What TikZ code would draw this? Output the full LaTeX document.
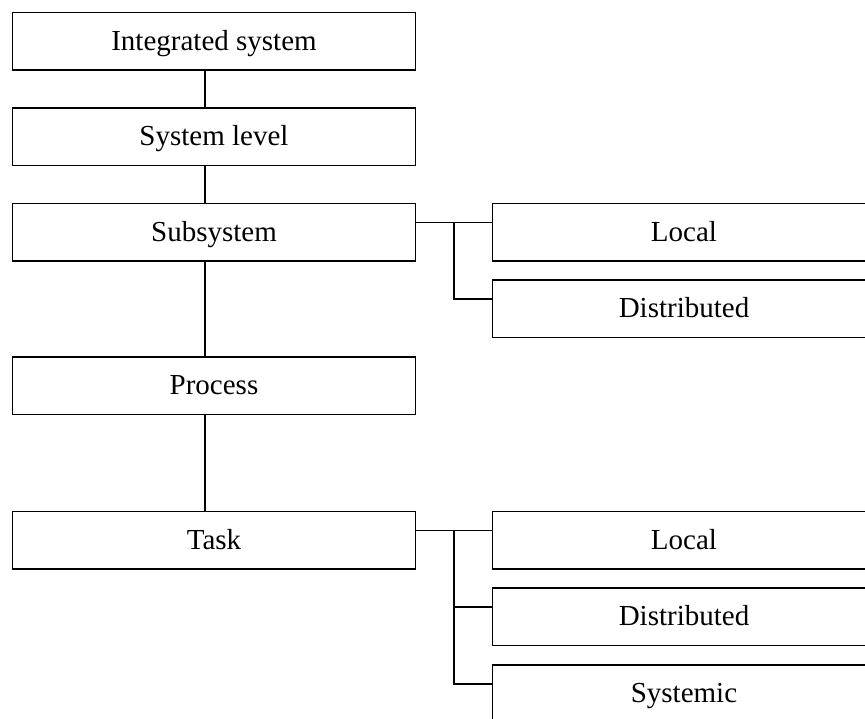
\documentclass[tikz,border=0pt]{standalone}
\usepackage{fontspec}
\setmainfont{Liberation Serif}
\usetikzlibrary{positioning}

\begin{document}
\begin{tikzpicture}[x=1pt, y=1pt, node distance=38pt, line width=1.5pt,
	box/.style={draw, minimum width=403pt, minimum height=57.5pt, inner sep=0pt, outer sep=0pt, text height=18pt, text depth=0pt, font=\fontsize{29}{34}\selectfont},
	leaf/.style={box, minimum width=383pt}]
	\useasboundingbox (0,0) rectangle (865,-718);
	\clip (0,0) rectangle (865,-718);

	% levels
	\node (integ) [box] at (214,-41) {Integrated system};
	\node (syslev) [box, below=of integ] {System level};
	\node (subsys) [box, below=of syslev] {Subsystem};
	\node (proc) [box, below=96pt of subsys] {Process};
	\node (task) [box, below=97pt of proc] {Task};

	% kinds
	\node (subloc) [leaf, right=77pt of subsys] {Local};
	\node (subdis) [leaf, below=19.25pt of subloc] {Distributed};
	\node (taskloc) [leaf, right=77pt of task] {Local};
	\node (taskdis) [leaf, below=19.25pt of taskloc] {Distributed};
	\node (tasksys) [leaf, below=19.25pt of taskdis] {Systemic};

	\coordinate (spine) at (205,0);
	\coordinate (fork) at (454,0);
	\coordinate (sublocin) at ([yshift=-19pt]subloc.north west);
	\coordinate (subdisin) at ([yshift=-19pt]subdis.north west);
	\coordinate (taskdisin) at ([yshift=-19pt]taskdis.north west);
	\coordinate (tasksysin) at ([yshift=-19pt]tasksys.north west);
	\coordinate (tasklocin) at ([yshift=-19pt]taskloc.north west);

	\draw (integ.south -| spine) -- (syslev.north -| spine);
	\draw (syslev.south -| spine) -- (subsys.north -| spine);
	\draw (subsys.south -| spine) -- (proc.north -| spine);
	\draw (proc.south -| spine) -- (task.north -| spine);

	\draw (subsys.east |- sublocin) -- (sublocin);
	\draw (sublocin -| fork) |- (subdisin);
	\draw (task.east |- tasklocin) -- (tasklocin);
	\draw (tasklocin -| fork) |- (tasksysin);
	\draw (taskdisin -| fork) -- (taskdisin);
\end{tikzpicture}
\end{document}
